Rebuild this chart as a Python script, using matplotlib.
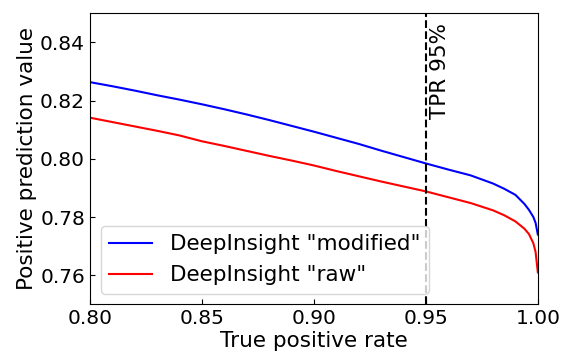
import matplotlib
matplotlib.use("Agg")
import matplotlib.pyplot as plt

tpr = [0.800, 0.810, 0.820, 0.830, 0.840, 0.850, 0.860, 0.870, 0.880, 0.890,
       0.900, 0.910, 0.920, 0.930, 0.940, 0.950, 0.960, 0.970, 0.980, 0.985,
       0.990, 0.994, 0.996, 0.998, 0.999, 1.000]
ppv_modified = [0.8263, 0.8249, 0.8234, 0.8218, 0.8203, 0.8187, 0.8170, 0.8152, 0.8133, 0.8113,
                0.8093, 0.8072, 0.8051, 0.8028, 0.8006, 0.7984, 0.7963, 0.7943, 0.7915, 0.7897,
                0.7876, 0.7845, 0.7825, 0.7800, 0.7780, 0.7740]
ppv_raw = [0.8141, 0.8126, 0.8111, 0.8096, 0.8080, 0.8060, 0.8044, 0.8027, 0.8010, 0.7994,
           0.7977, 0.7958, 0.7940, 0.7922, 0.7905, 0.7888, 0.7868, 0.7848, 0.7823, 0.7806,
           0.7785, 0.7760, 0.7742, 0.7710, 0.7680, 0.7610]
tpr_cut = 0.95

fig, ax = plt.subplots(figsize=(5.62, 3.54), dpi=100)
ax.plot(tpr, ppv_modified, color='blue', lw=1.5, label='DeepInsight "modified"')
ax.plot(tpr, ppv_raw, color='red', lw=1.5, label='DeepInsight "raw"')
ax.axvline(tpr_cut, color='black', ls='--', lw=1.5)
ax.text(tpr_cut + 0.002, 0.8465, 'TPR 95%', rotation=90, va='top', ha='left', fontsize=15.5)
ax.set_xlim(0.8, 1.0)
ax.set_ylim(0.75, 0.85)
ax.set_xticks([0.80, 0.85, 0.90, 0.95, 1.00])
ax.set_yticks([0.76, 0.78, 0.80, 0.82, 0.84])
ax.tick_params(direction='in', labelsize=14.5)
ax.set_xlabel('True positive rate', fontsize=15.5, labelpad=2)
ax.set_ylabel('Positive prediction value', fontsize=15.5, labelpad=2)
ax.legend(loc='lower left', fontsize=15.5)
fig.subplots_adjust(left=0.16, right=0.957, top=0.963, bottom=0.14)
fig.savefig('out.png', dpi=100)
